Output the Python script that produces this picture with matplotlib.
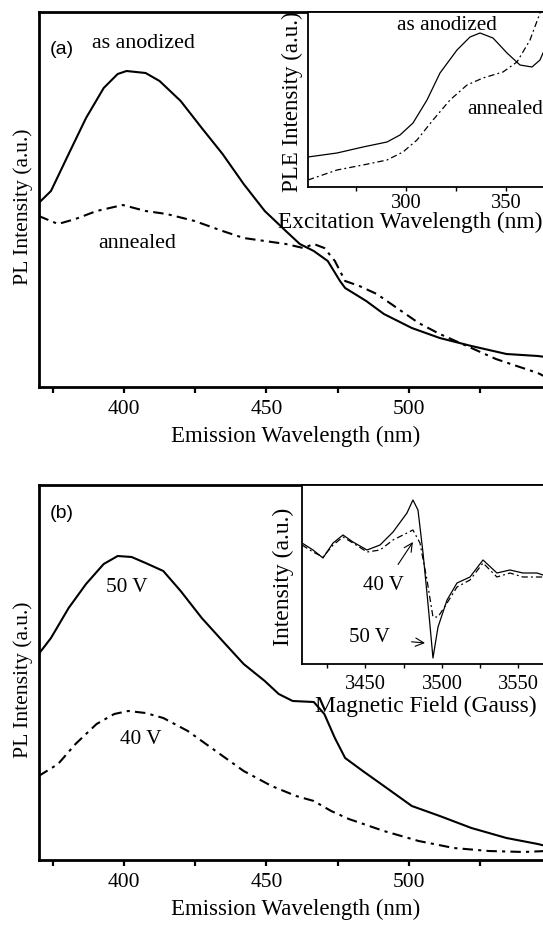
import matplotlib.pyplot as plt

plt.rcParams['font.family'] = ['Liberation Serif', 'DejaVu Serif']

# ---- panel (a): PL spectra, as anodized vs annealed ----
wl_anod = [370.1, 374.4, 380.6, 386.7, 392.9, 397.8, 400.9, 407.6, 412.5, 419.9, 427.3,
           434.6, 442.0, 449.4, 456.8, 461.7, 466.6, 471.5, 475.8, 477.6, 485.0, 491.2,
           501.0, 510.8, 521.9, 534.2, 545.2, 548.0]
pl_anod = [184, 196, 233, 269, 299, 313, 316, 314, 306, 286, 259, 233, 203, 176, 156, 143,
           136, 126, 106, 99, 86, 73, 59, 49, 41, 33, 31, 30]
wl_ann = [370.1, 376.9, 383.0, 390.4, 399.6, 407.6, 415.0, 424.8, 434.6, 442.0, 449.4,
          456.8, 462.9, 466.6, 470.3, 474.0, 477.6, 482.6, 488.7, 497.3, 503.4, 510.8,
          521.9, 530.5, 537.8, 545.2, 548.0]
pl_ann = [171, 163, 168, 176, 182, 176, 173, 166, 156, 149, 146, 143, 139, 143, 139, 126,
          106, 101, 93, 76, 64, 53, 39, 28, 21, 14, 10]

# inset (a): PLE spectra
ex_anod = [251, 265.5, 278.5, 290.5, 297, 303.5, 310.5, 317, 325.5, 332, 337, 343.5,
           350.5, 357, 363, 367, 368.5]
ple_anod = [30, 34, 40, 45, 52, 64, 87, 114, 137, 150, 154, 149, 134, 122, 120, 127, 134]
ex_ann = [251, 265.5, 278.5, 290.5, 298.5, 305.5, 313.5, 322, 330.5, 338.5, 348.5, 355.5,
          362, 367, 369]
ple_ann = [7, 17, 22, 27, 35, 47, 67, 87, 102, 109, 115, 125, 147, 174, 185]

# ---- panel (b): PL spectra, 50 V vs 40 V ----
wl_50 = [370.1, 374.4, 380.6, 386.7, 392.9, 397.8, 402.7, 407.6, 413.8, 419.9, 427.3,
         434.6, 442.0, 449.4, 454.3, 459.2, 466.6, 470.3, 474.0, 477.6, 483.8, 491.2,
         501.0, 510.8, 521.9, 534.2, 545.2, 548.0]
pl_50 = [206, 222, 252, 276, 296, 304, 303, 297, 289, 269, 242, 219, 196, 179, 166, 159,
         158, 146, 122, 102, 89, 74, 54, 44, 32, 22, 16, 14]
wl_40 = [370.1, 376.9, 383.0, 390.4, 396.6, 401.5, 407.6, 413.8, 422.4, 432.2, 442.0,
         451.8, 460.4, 466.6, 472.7, 478.9, 491.2, 503.4, 515.7, 528.0, 540.3, 548.0]
pl_40 = [84, 96, 116, 136, 146, 149, 147, 142, 129, 109, 89, 74, 64, 59, 49, 41, 29, 19,
         12, 9, 8, 9]

# inset (b): ESR spectra
field_50 = [3408.5, 3415.7, 3422.2, 3428.8, 3435.3, 3441.8, 3451.0, 3459.5, 3468.0,
            3477.1, 3481.0, 3484.3, 3487.6, 3490.8, 3494.1, 3497.4, 3503.3, 3509.8,
            3518.3, 3526.8, 3535.9, 3544.4, 3552.9, 3562.1, 3566.0]
esr_50 = [121, 114, 106, 121, 129, 122, 114, 119, 132, 151, 164, 154, 111, 61, 6, 37, 64,
          81, 87, 104, 91, 94, 91, 91, 89]
field_40 = [3408.5, 3415.7, 3422.2, 3428.8, 3435.3, 3441.8, 3451.0, 3459.5, 3468.0,
            3477.1, 3481.0, 3485.6, 3490.2, 3494.1, 3497.4, 3503.3, 3509.8, 3518.3,
            3526.8, 3535.9, 3544.4, 3552.9, 3562.1, 3566.0]
esr_40 = [119, 112, 107, 119, 127, 121, 112, 114, 124, 131, 134, 121, 84, 47, 47, 61, 77,
          84, 101, 87, 91, 87, 87, 87]

W, H = 543, 926
fig = plt.figure(figsize=(W / 100, H / 100), dpi=100)

DASH = (5, 2.5, 1.5, 2.5)


def px_axes(left, top, width, height):
    return fig.add_axes([left / W, 1 - (top + height) / H, width / W, height / H])


def main_axes(top, xlab):
    ax = px_axes(39, top, 541, 375)
    ax.set_xlim(370.2, 560)
    ax.set_ylim(0, 375)
    ax.set_yticks([])
    ax.set_xticks([400, 450, 500])
    ax.set_xticks([375, 425, 475, 525], minor=True)
    ax.tick_params(axis='x', which='both', direction='out', length=4.5, width=1.6,
                   labelsize=15.5, pad=5)
    for s in ax.spines.values():
        s.set_linewidth(2.0)
    ax.set_xlabel(xlab, fontsize=16.5)
    ax.xaxis.label.set_va('center')
    ax.xaxis.set_label_coords(0.475, -0.133)
    ax.set_ylabel('PL Intensity (a.u.)', fontsize=15.6)
    ax.yaxis.label.set_va('center')
    ax.yaxis.set_label_coords(-0.03, 0.48)
    return ax


def inset_axes(left, top, width, height, xlim, ylim):
    ax = px_axes(left, top, width, height)
    ax.set_facecolor('white')
    ax.set_xlim(*xlim)
    ax.set_ylim(*ylim)
    ax.set_yticks([])
    ax.tick_params(axis='x', which='both', direction='out', length=3, width=1.0,
                   labelsize=14.8, pad=2)
    for s in ax.spines.values():
        s.set_linewidth(1.3)
    return ax


# panel (a)
ax1 = main_axes(12, 'Emission Wavelength (nm)')
ax1.plot(wl_anod, pl_anod, color='black', lw=1.5)
ax1.plot(wl_ann, pl_ann, color='black', lw=1.5, dashes=DASH)
ax1.text(378.2, 338, '(a)', family='Liberation Sans', fontsize=14, ha='center', va='center')
ax1.text(406.7, 343, 'as anodized', fontsize=15.8, ha='center', va='center')
ax1.text(404.7, 143, 'annealed', fontsize=15.8, ha='center', va='center')

ia = inset_axes(308, 12, 258, 175, (251, 380), (0, 175))
ia.plot(ex_anod, ple_anod, color='black', lw=0.9)
ia.plot(ex_ann, ple_ann, color='black', lw=0.9, dashes=DASH)
ia.set_xticks([300, 350])
ia.set_xticks([275, 325, 375], minor=True)
ia.set_xlabel('Excitation Wavelength (nm)', fontsize=16.8)
ia.xaxis.label.set_va('center')
ia.xaxis.set_label_coords(0.395, -0.2)
ia.set_ylabel('PLE Intensity (a.u.)', fontsize=16.5)
ia.yaxis.label.set_va('center')
ia.yaxis.set_label_coords(-0.062, 0.486)
ia.text(320.5, 162, 'as anodized', fontsize=15.3, ha='center', va='center')
ia.text(330.5, 77, 'annealed', fontsize=15.3, ha='left', va='center')

# panel (b)
ax2 = main_axes(485, 'Emission Wavelength (nm)')
ax2.plot(wl_50, pl_50, color='black', lw=1.5)
ax2.plot(wl_40, pl_40, color='black', lw=1.5, dashes=DASH)
ax2.text(378.2, 346, '(b)', family='Liberation Sans', fontsize=14, ha='center', va='center')
ax2.text(400.9, 272, '50 V', fontsize=15.3, ha='center', va='center')
ax2.text(405.8, 120, '40 V', fontsize=15.3, ha='center', va='center')

ib = inset_axes(302, 485, 293, 179, (3408.5, 3600), (0, 179))
ib.plot(field_50, esr_50, color='black', lw=0.9)
ib.plot(field_40, esr_40, color='black', lw=0.9, dashes=DASH)
ib.set_xticks([3450, 3500, 3550])
ib.set_xticks([3425, 3475, 3525, 3575], minor=True)
ib.tick_params(axis='x', pad=5)
ib.set_xlabel('Magnetic Field (Gauss)', fontsize=16.9)
ib.xaxis.label.set_va('center')
ib.xaxis.set_label_coords(0.423, -0.235)
ib.set_ylabel('Intensity (a.u.)', fontsize=17)
ib.yaxis.label.set_va('center')
ib.yaxis.set_label_coords(-0.065, 0.486)
ib.annotate('40 V', xy=(3481, 122), xytext=(3462, 78), fontsize=15,
            ha='center', va='center',
            arrowprops=dict(arrowstyle='->', lw=0.8, color='black', shrinkA=8, shrinkB=0))
ib.annotate('50 V', xy=(3488.9, 21), xytext=(3452.3, 26), fontsize=15,
            ha='center', va='center',
            arrowprops=dict(arrowstyle='->', lw=0.8, color='black', shrinkA=14, shrinkB=0))

fig.savefig('out.png', dpi=100)
